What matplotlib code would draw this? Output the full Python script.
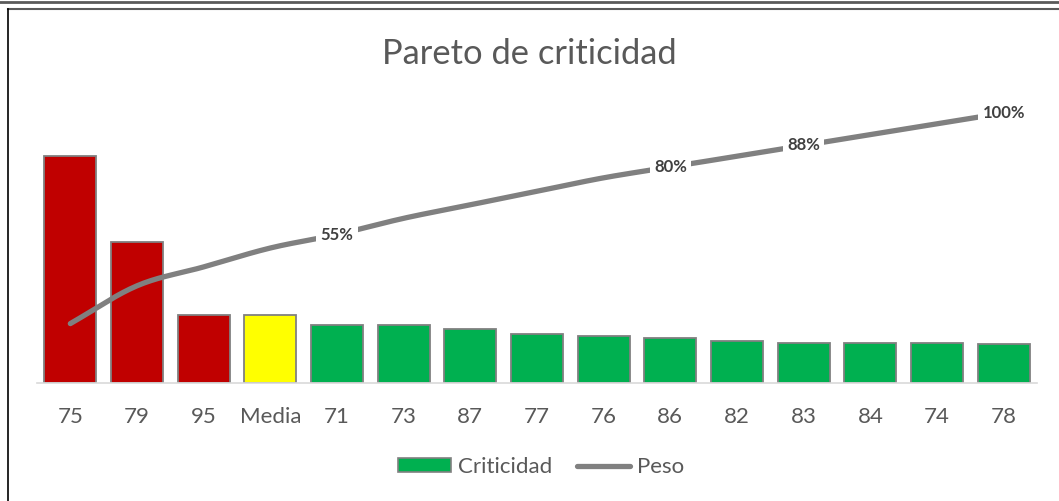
import numpy as np
import matplotlib
matplotlib.use("Agg")
import matplotlib.pyplot as plt
from matplotlib.lines import Line2D
from matplotlib.patches import Patch

categories = ["75", "79", "95", "Media", "71", "73", "87", "77", "76", "86", "82", "83", "84", "74", "78"]
criticidad = [227, 141, 68, 68, 58, 58, 54, 49, 47.5, 45, 42.5, 40, 40, 40, 39]
peso = [22, 36, 43, 50, 55, 61, 66, 71, 76, 80, 84, 88, 92, 96, 100]
bar_colors = ["#C00000", "#C00000", "#C00000", "#FFFF00"] + ["#00B050"] * 11
labeled_idx = [4, 9, 11, 14]

plt.rcParams['font.family'] = ['Lato', 'DejaVu Sans']

W, H = 1059, 501
fig = plt.figure(figsize=(W / 100, H / 100), dpi=100)

ax_left, ax_right, ax_base, ax_top = 37, 1037, 383, 100
ax = fig.add_axes([ax_left / W, (H - ax_base) / H, (ax_right - ax_left) / W, (ax_base - ax_top) / H])
x = np.arange(len(categories))
ax.bar(x, criticidad, width=0.78, color=bar_colors, edgecolor="#808080", linewidth=1.3, zorder=2)
ax.set_xlim(-0.5, len(categories) - 0.5)
ax.set_ylim(0, 283)
ax.set_yticks([])
ax.set_xticks(x)
ax.set_xticklabels(categories, fontsize=16, color="#595959")
ax.tick_params(axis='x', length=0, pad=17)
for s in ["top", "right", "left"]:
    ax.spines[s].set_visible(False)
ax.spines["bottom"].set_color("#D9D9D9")
ax.spines["bottom"].set_linewidth(1.2)

ax2 = ax.twinx()
ax2.set_ylim(0, 100 * 283 / 270)
ax2.set_yticks([])
for s in ax2.spines.values():
    s.set_visible(False)

# smooth (Catmull-Rom) rendering of the cumulative line
px = np.asarray(x, float)
py = np.asarray(peso, float)
P = np.column_stack([px, py])
P_ext = np.vstack([2 * P[0] - P[1], P, 2 * P[-1] - P[-2]])
seg = []
t = np.linspace(0, 1, 20)
for i in range(1, len(P_ext) - 2):
    p0, p1, p2, p3 = P_ext[i - 1], P_ext[i], P_ext[i + 1], P_ext[i + 2]
    tt = t[:, None]
    c = 0.5 * ((2 * p1) + (-p0 + p2) * tt + (2 * p0 - 5 * p1 + 4 * p2 - p3) * tt ** 2 + (-p0 + 3 * p1 - 3 * p2 + p3) * tt ** 3)
    seg.append(c)
curve = np.vstack(seg)
ax2.plot(curve[:, 0], curve[:, 1], color="#808080", linewidth=3.8, solid_capstyle="round", zorder=3)

for i in labeled_idx:
    ax2.text(x[i], peso[i], f"{peso[i]}%", ha="center", va="center", fontsize=12, fontweight="bold",
             color="#404040", zorder=4,
             bbox=dict(boxstyle="square,pad=0.25", facecolor="white", edgecolor="none"))

fig.text(0.5, (H - 54) / H, "Pareto de criticidad", ha="center", va="center", fontsize=24.8, color="#595959")

handles = [Patch(facecolor="#00B050", edgecolor="#808080", linewidth=1.2),
           Line2D([0], [0], color="#808080", linewidth=3.8, solid_capstyle="round")]
fig.legend(handles, ["Criticidad", "Peso"], loc="center", bbox_to_anchor=(541 / W, (H - 467) / H), ncol=2,
           frameon=False, fontsize=16, labelcolor="#595959", handlelength=2.4, handleheight=0.6,
           handletextpad=0.3, columnspacing=1.1)

# outer frame
fig.add_artist(Line2D([0, 1], [(H - 2) / H] * 2, transform=fig.transFigure, color="#595959", linewidth=2))
fig.add_artist(Line2D([8 / W, 1], [(H - 9) / H] * 2, transform=fig.transFigure, color="#595959", linewidth=1.5))
fig.add_artist(Line2D([8 / W, 8 / W], [0, (H - 9) / H], transform=fig.transFigure, color="black", linewidth=1.2))

fig.savefig("out.png", dpi=100, facecolor="white")
